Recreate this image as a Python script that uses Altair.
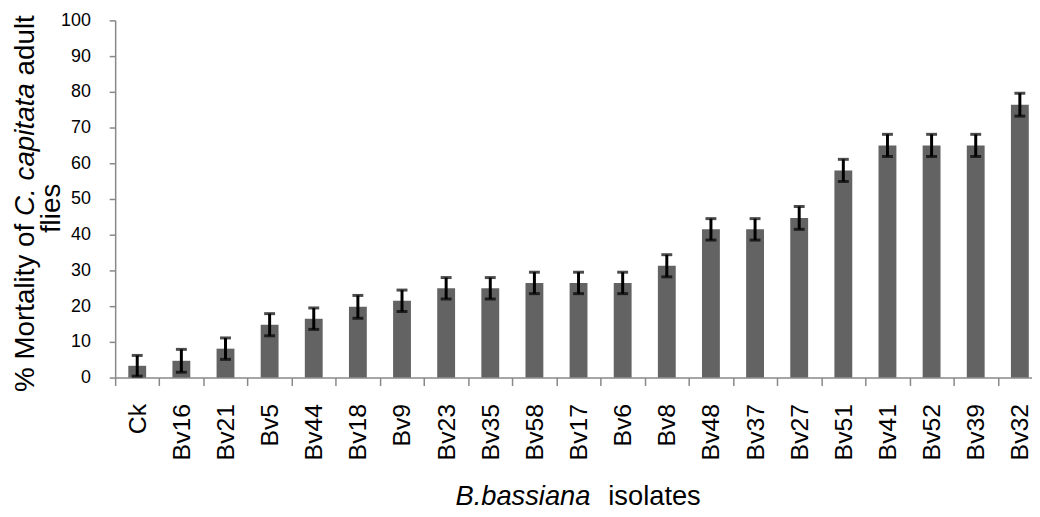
import altair as alt
import pandas as pd

categories = ["Ck", "Bv16", "Bv21", "Bv5", "Bv44", "Bv18", "Bv9", "Bv23", "Bv35", "Bv58",
              "Bv17", "Bv6", "Bv8", "Bv48", "Bv37", "Bv27", "Bv51", "Bv41", "Bv52", "Bv39", "Bv32"]
mortality = [3.3, 4.7, 8.1, 14.8, 16.5, 19.8, 21.5, 25.0, 25.0, 26.5,
             26.5, 26.5, 31.3, 41.5, 41.5, 44.7, 58.0, 65.0, 65.0, 65.0, 76.4]
std_err = [2.9, 3.2, 3.0, 3.1, 3.0, 3.2, 3.0, 3.0, 3.0, 3.0,
           3.0, 3.0, 3.1, 3.0, 3.0, 3.2, 3.1, 3.1, 3.1, 3.1, 3.2]

df = pd.DataFrame({
    "isolate": categories,
    "mortality": mortality,
    "lo": [m - e for m, e in zip(mortality, std_err)],
    "hi": [m + e for m, e in zip(mortality, std_err)],
})

FONT = "Liberation Sans"
AXIS_GRAY = "#888888"

x_scale = alt.Scale(range=[0, 934], paddingInner=0, paddingOuter=0)
y_scale = alt.Scale(domain=[0, 100], nice=False)

x_axis = alt.Axis(title=None, labelAngle=-90, labelFontSize=25, labelFont=FONT,
                  labelColor="black", tickSize=8, labelPadding=18, tickBand="extent",
                  domainColor=AXIS_GRAY, tickColor=AXIS_GRAY, domainWidth=1.5, tickWidth=1.5)
y_axis = alt.Axis(title=None, values=list(range(0, 101, 10)), labelFontSize=18, labelFont=FONT,
                  labelColor="black", tickSize=6, labelPadding=19, grid=False,
                  domainColor=AXIS_GRAY, tickColor=AXIS_GRAY, domainWidth=1.5, tickWidth=1.5)

base = alt.Chart(df)
xe = alt.X("isolate:N", sort=categories, scale=x_scale, axis=x_axis)

bars = base.mark_bar(size=18, color="#636363").encode(
    x=xe, y=alt.Y("mortality:Q", scale=y_scale, axis=y_axis))
rules = base.mark_rule(color="black", strokeWidth=3).encode(
    x=xe, y=alt.Y("lo:Q", scale=y_scale, axis=y_axis), y2="hi:Q")
cap_lo = base.mark_tick(color="black", thickness=3, size=11).encode(
    x=xe, y=alt.Y("lo:Q", scale=y_scale, axis=y_axis))
cap_hi = base.mark_tick(color="black", thickness=3, size=11).encode(
    x=xe, y=alt.Y("hi:Q", scale=y_scale, axis=y_axis))

one = pd.DataFrame({"k": [0]})


def label(text, x, y, angle=0, italic=False, align="left", size=28):
    kw = dict(text=text, font=FONT, fontSize=size, color="black", align=align,
              baseline="alphabetic", fontStyle="italic" if italic else "normal")
    if angle:
        kw["angle"] = angle
    return alt.Chart(one).mark_text(**kw).encode(x=alt.value(x), y=alt.value(y))


ytitle = [
    label("% Mortality of ", -82, 374.5, angle=270),
    label("C. capitata", -82, 197.1, angle=270, italic=True),
    label("adult", -82, 55.5, angle=270),
    label("flies", -56, 189.5, angle=270, align="center"),
]
xtitle = [
    label("B.bassiana", 343, 488.5, italic=True, size=27.5),
    label("isolates", 497, 488.5, size=27.5),
]

chart = alt.layer(bars, rules, cap_lo, cap_hi, *ytitle, *xtitle).properties(
    width=924, height=360,
    autosize=alt.AutoSizeParams(type="none"),
    padding={"left": 108, "top": 10.5, "right": 0, "bottom": 135},
).configure_view(stroke=None)

chart.save("out.html", embed_options={"renderer": "svg", "actions": False})
